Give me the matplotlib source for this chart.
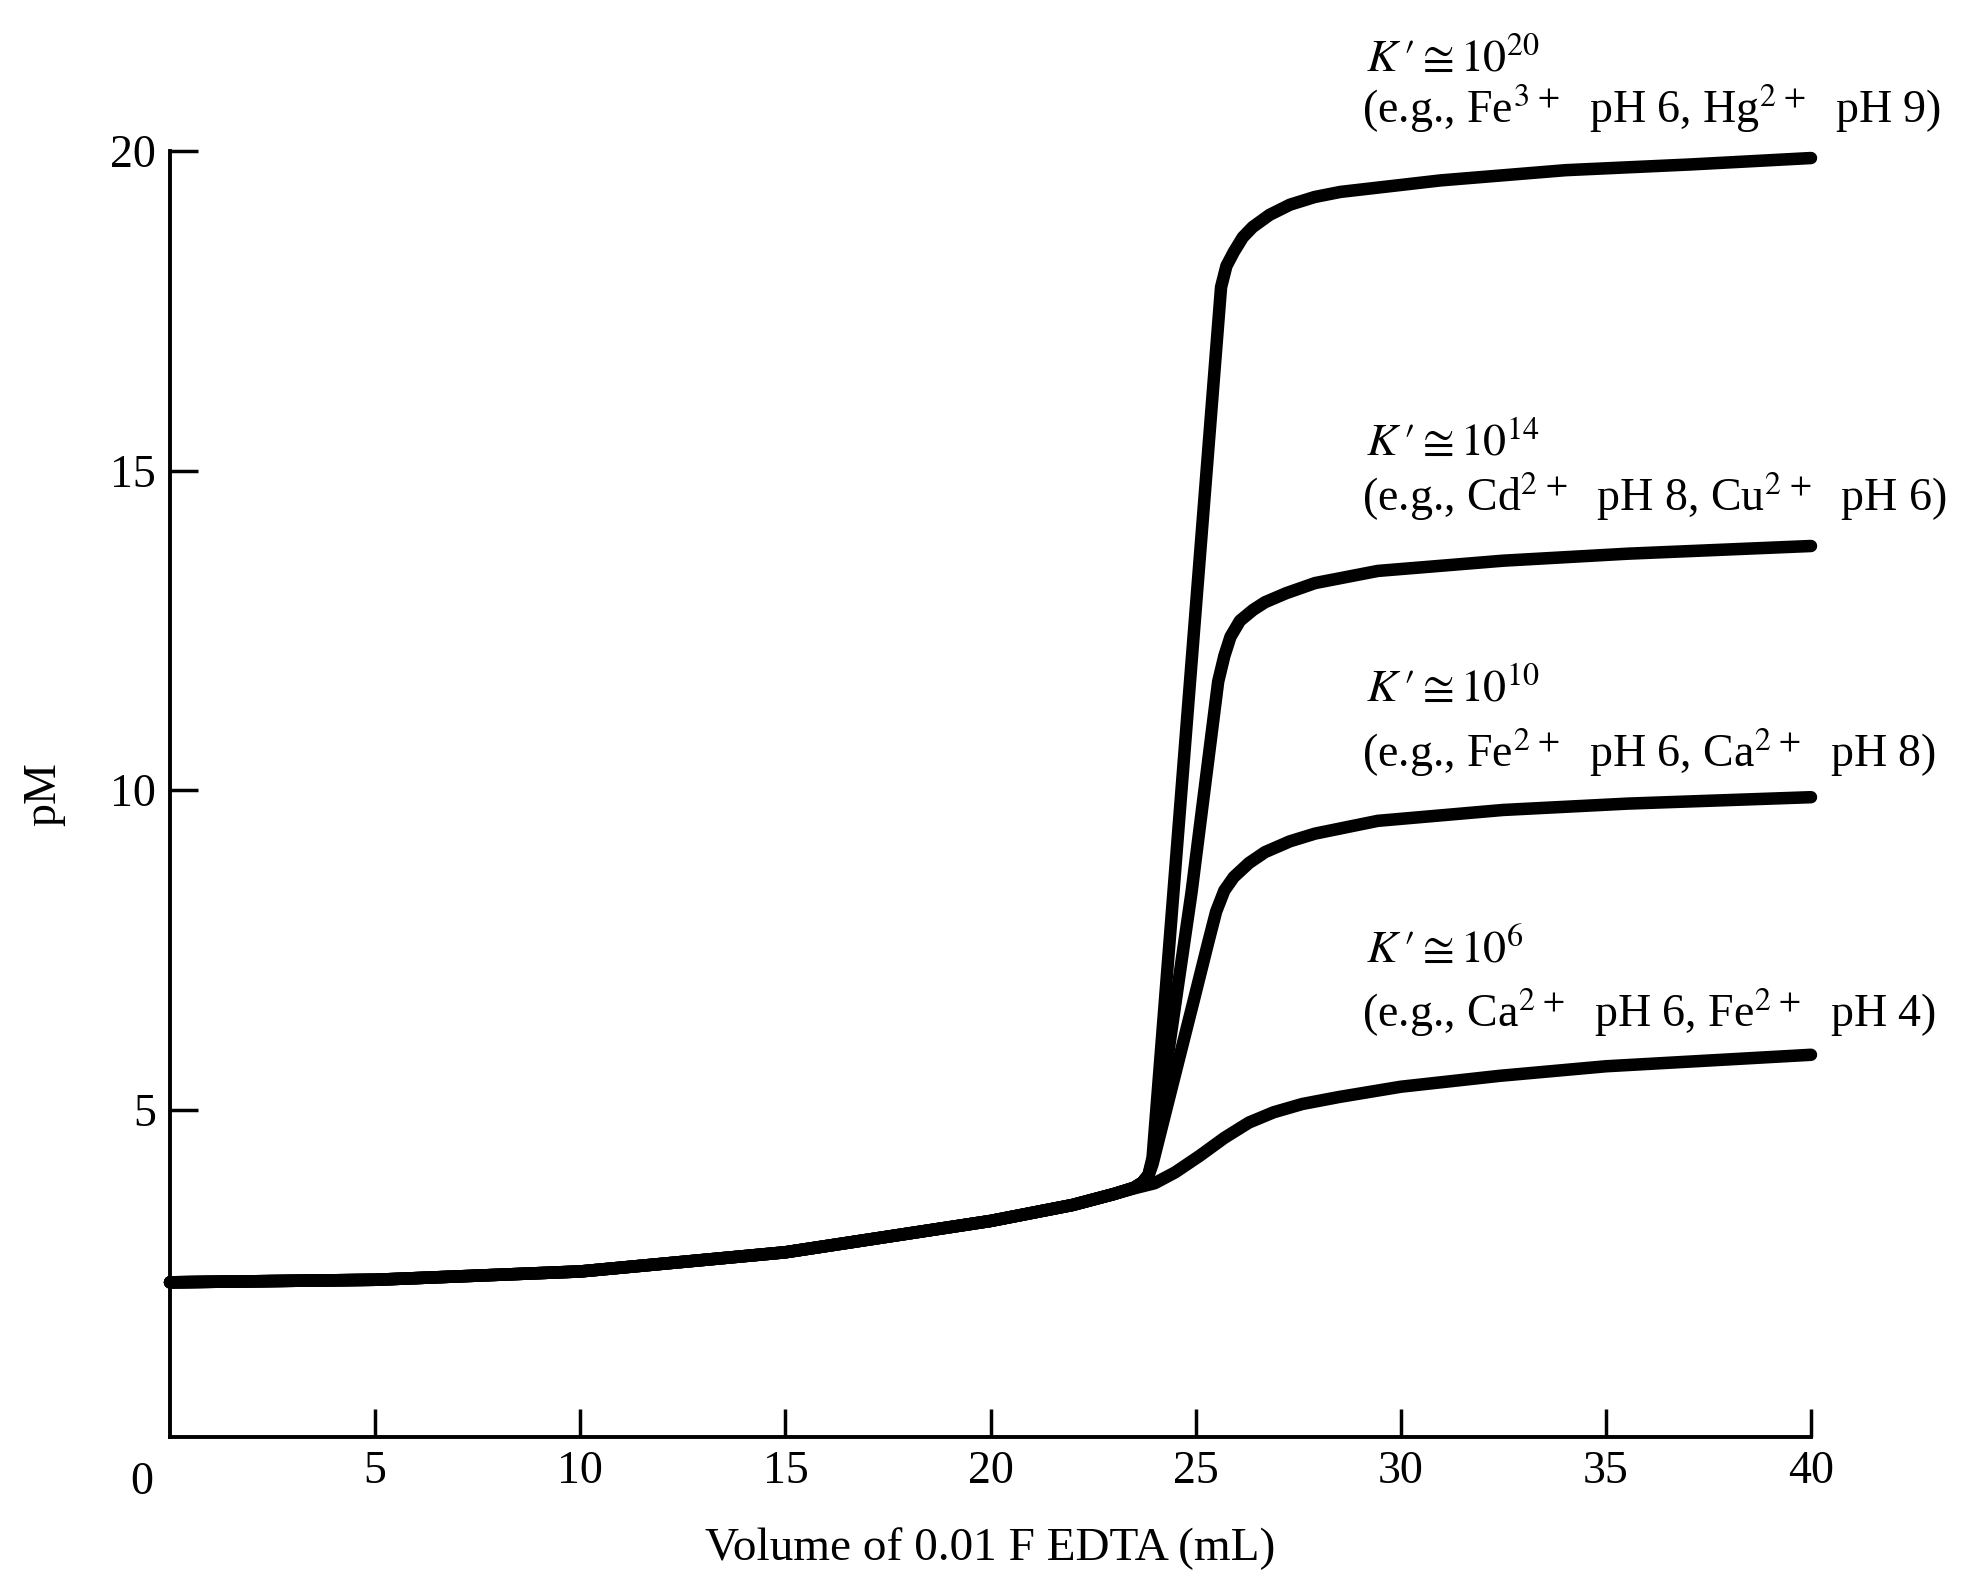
import numpy as np
import matplotlib.pyplot as plt

plt.rcParams['font.family'] = ['Liberation Serif', 'DejaVu Serif']
plt.rcParams['mathtext.fontset'] = 'stix'

# shared part of the titration curve (before the equivalence point)
vol_common = [0, 5, 10, 15, 20, 22, 23]
pm_common = [2.30, 2.34, 2.47, 2.77, 3.26, 3.51, 3.68]

# branches after ~23 mL, one per conditional formation constant
vol_k20 = [23.5, 23.7, 23.85, 23.95, 25.62, 25.75, 25.93, 26.15, 26.39, 26.8, 27.3, 27.9, 28.53, 30.97, 34.02, 37.08, 40]
pm_k20 = [3.78, 3.86, 3.98, 4.25, 17.87, 18.2, 18.42, 18.65, 18.81, 19.0, 19.16, 19.28, 19.36, 19.54, 19.70, 19.79, 19.89]

vol_k14 = [23.5, 23.7, 23.85, 23.95, 24.9, 25.55, 25.7, 25.85, 26.08, 26.4, 26.69, 27.2, 27.91, 29.44, 32.49, 35.54, 40]
pm_k14 = [3.78, 3.86, 3.98, 4.2, 8.4, 11.7, 12.1, 12.4, 12.65, 12.82, 12.94, 13.08, 13.24, 13.43, 13.59, 13.70, 13.82]

vol_k10 = [23.5, 23.7, 23.85, 23.95, 24.4, 24.95, 25.3, 25.5, 25.7, 25.93, 26.3, 26.69, 27.3, 27.91, 29.44, 32.49, 35.54, 40]
pm_k10 = [3.78, 3.86, 3.97, 4.15, 5.3, 6.7, 7.6, 8.1, 8.43, 8.64, 8.86, 9.03, 9.2, 9.32, 9.52, 9.69, 9.79, 9.89]

vol_k6 = [23.5, 24.0, 24.5, 25.1, 25.7, 26.3, 26.9, 27.6, 28.5, 30.0, 32.4, 35.0, 40]
pm_k6 = [3.77, 3.85, 4.02, 4.28, 4.56, 4.8, 4.96, 5.09, 5.2, 5.36, 5.53, 5.68, 5.86]

branches = [(vol_k20, pm_k20), (vol_k14, pm_k14), (vol_k10, pm_k10), (vol_k6, pm_k6)]

line1 = [r"$K\,\prime\cong 10^{20}$", r"$K\,\prime\cong 10^{14}$",
         r"$K\,\prime\cong 10^{10}$", r"$K\,\prime\cong 10^{6}$"]
line2 = [r"(e.g., Fe$^{3\,+}$  pH 6, Hg$^{2\,+}$  pH 9)",
         r"(e.g., Cd$^{2\,+}$  pH 8, Cu$^{2\,+}$  pH 6)",
         r"(e.g., Fe$^{2\,+}$  pH 6, Ca$^{2\,+}$  pH 8)",
         r"(e.g., Ca$^{2\,+}$  pH 6, Fe$^{2\,+}$  pH 4)"]
line1_y = [21.25, 15.25, 11.4, 7.3]
line2_y = [20.45, 14.38, 10.36, 6.3]

fig = plt.figure(figsize=(19.63, 15.81), dpi=100)
ax = fig.add_axes([170 / 1963, 1 - 1437 / 1581, (1811 - 170) / 1963, (1437 - 151) / 1581])

for v, p in branches:
    ax.plot(vol_common + v, pm_common + p, color='black', lw=9,
            solid_capstyle='round', solid_joinstyle='round', clip_on=False)

for t1, t2, y1, y2 in zip(line1, line2, line1_y, line2_y):
    ax.text(29.15, y1, t1, fontsize=33, va='baseline', ha='left')
    ax.text(29.05, y2, t2, fontsize=33, va='baseline', ha='left')

ax.set_xlim(0, 40)
ax.set_ylim(-0.12, 20)
ax.set_xticks([5, 10, 15, 20, 25, 30, 35, 40])
ax.set_yticks([5, 10, 15, 20])
ax.tick_params(direction='in', length=20, width=2.5, labelsize=33, pad=10)
ax.text(-0.7, -0.5, "0", fontsize=33, ha='center', va='top')

for s in ['top', 'right']:
    ax.spines[s].set_visible(False)
for s in ['left', 'bottom']:
    ax.spines[s].set_linewidth(2.8)

ax.set_xlabel("Volume of 0.01 F EDTA (mL)", fontsize=34)
ax.xaxis.set_label_coords(0.5, -0.087)
ax.xaxis.label.set_va('center')
ax.set_ylabel("pM", fontsize=33)
ax.yaxis.set_label_coords(-0.077, 0.5)
ax.yaxis.label.set_va('center')

fig.savefig("out.png", dpi=100)
